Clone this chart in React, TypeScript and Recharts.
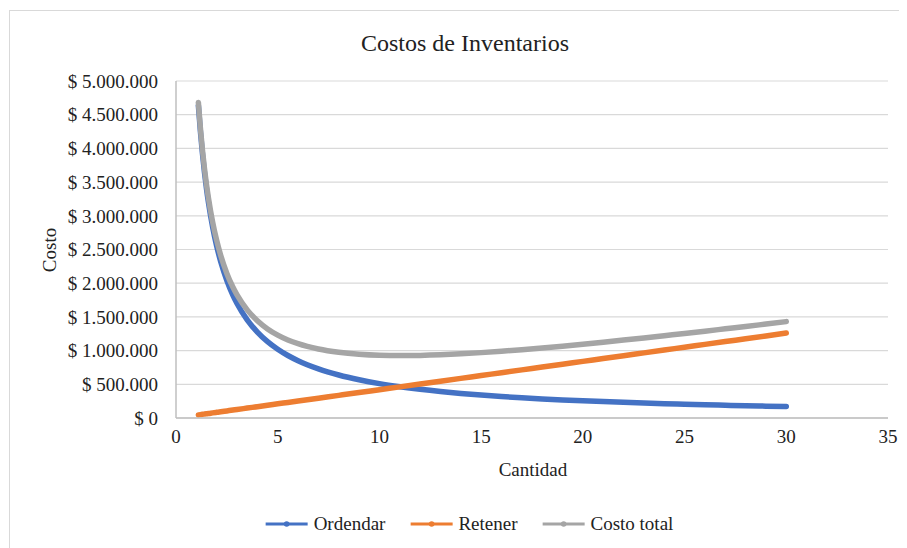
import React from "react";
import { LineChart, Line, XAxis, YAxis, CartesianGrid } from "recharts";

// Cantidad (x values)
const cantidad = [
  1.1, 1.2, 1.3, 1.4, 1.5, 1.6, 1.8, 2, 2.2, 2.5, 2.8, 3, 3.5, 4, 4.5, 5, 5.5, 6,
  7, 8, 9, 10, 11, 12, 13, 14, 15, 16, 17, 18, 19, 20, 21, 22, 23, 24, 25, 26,
  27, 28, 29, 30,
];

const ordendar = [
  4636000, 4250000, 3923000, 3643000, 3400000, 3188000, 2833000, 2550000,
  2318000, 2040000, 1821000, 1700000, 1457000, 1275000, 1133000, 1020000,
  927000, 850000, 729000, 638000, 567000, 510000, 464000, 425000, 392000,
  364000, 340000, 319000, 300000, 283000, 268000, 255000, 243000, 232000,
  222000, 213000, 204000, 196000, 189000, 182000, 176000, 170000,
];

const retener = [
  46000, 50000, 55000, 59000, 63000, 67000, 76000, 84000, 92000, 105000,
  118000, 126000, 147000, 168000, 189000, 210000, 231000, 252000, 294000,
  336000, 378000, 420000, 462000, 504000, 546000, 588000, 630000, 672000,
  714000, 756000, 798000, 840000, 882000, 924000, 966000, 1008000, 1050000,
  1092000, 1134000, 1176000, 1218000, 1260000,
];

const costoTotal = [
  4682000, 4300000, 3978000, 3702000, 3463000, 3255000, 2909000, 2634000,
  2410000, 2145000, 1939000, 1826000, 1604000, 1443000, 1322000, 1230000,
  1158000, 1102000, 1023000, 974000, 945000, 930000, 926000, 929000, 938000,
  952000, 970000, 991000, 1014000, 1039000, 1066000, 1095000, 1125000,
  1156000, 1188000, 1221000, 1254000, 1288000, 1323000, 1358000, 1394000,
  1430000,
];

const xTicks = [0, 5, 10, 15, 20, 25, 30, 35];
const yTicks = [
  0, 500000, 1000000, 1500000, 2000000, 2500000, 3000000, 3500000, 4000000,
  4500000, 5000000,
];

const seriesNames = ["Ordendar", "Retener", "Costo total"];
const seriesColors = ["#4472C4", "#ED7D31", "#A5A5A5"];
const seriesKeys = ["ordendar", "retener", "total"];

const data = cantidad.map((x, i) => ({
  x,
  ordendar: ordendar[i],
  retener: retener[i],
  total: costoTotal[i],
}));

const FONT = '"Liberation Serif", "Times New Roman", serif';

function fmtMoney(v: number): string {
  const s = Math.round(v).toString();
  const parts: string[] = [];
  for (let i = s.length; i > 0; i -= 3) {
    parts.unshift(s.substring(Math.max(0, i - 3), i));
  }
  return "$ " + parts.join(".");
}

export default function App() {
  return (
    <div
      style={{
        position: "relative",
        width: 907,
        height: 548,
        margin: "-8px 0 0 -8px",
        overflow: "hidden",
        background: "#fff",
        fontFamily: FONT,
      }}
    >
      <div
        style={{
          position: "absolute",
          left: 9,
          top: 10,
          width: 1000,
          height: 1000,
          border: "1px solid #d9d9d9",
          boxSizing: "border-box",
        }}
      />
      <div
        style={{
          position: "absolute",
          left: 0,
          width: 930,
          top: 28,
          textAlign: "center",
          fontSize: 24,
          color: "#222",
          lineHeight: "30px",
        }}
      >
        Costos de Inventarios
      </div>
      <div style={{ position: "absolute", left: 0, top: 0 }}>
        <LineChart
          width={907}
          height={548}
          data={data}
          margin={{ top: 81, right: 19, bottom: 100, left: 0 }}
        >
          <CartesianGrid
            horizontal={true}
            vertical={false}
            stroke="#d9d9d9"
            strokeWidth={1.2}
          />
          <XAxis
            dataKey="x"
            type="number"
            domain={[0, 35]}
            ticks={xTicks}
            allowDataOverflow
            height={30}
            stroke="#bfbfbf"
            strokeWidth={1.5}
            tickLine={false}
            tickSize={6}
            tickMargin={6}
            tick={{ fill: "#222", fontSize: 19, fontFamily: FONT }}
          />
          <YAxis
            type="number"
            domain={[0, 5000000]}
            ticks={yTicks}
            width={176}
            stroke="#bfbfbf"
            strokeWidth={1.5}
            tickLine={false}
            tickSize={6}
            tickMargin={12}
            tickFormatter={fmtMoney}
            tick={{ fill: "#222", fontSize: 19, fontFamily: FONT }}
          />
          {seriesKeys.map((k, i) => (
            <Line
              key={k}
              type="monotone"
              dataKey={k}
              name={seriesNames[i]}
              stroke={seriesColors[i]}
              strokeWidth={5.5}
              strokeLinecap="round"
              strokeLinejoin="round"
              dot={false}
              isAnimationActive={false}
            />
          ))}
        </LineChart>
      </div>
      <div
        style={{
          position: "absolute",
          left: 50,
          top: 250,
          transform: "translate(-50%, -50%) rotate(-90deg)",
          fontSize: 19,
          color: "#222",
          whiteSpace: "nowrap",
        }}
      >
        Costo
      </div>
      <div
        style={{
          position: "absolute",
          left: 533,
          top: 470,
          transform: "translate(-50%, -50%)",
          fontSize: 19,
          color: "#222",
          whiteSpace: "nowrap",
        }}
      >
        Cantidad
      </div>
      <div
        style={{
          position: "absolute",
          left: 469,
          top: 524,
          transform: "translate(-50%, -50%)",
          display: "flex",
          alignItems: "center",
          gap: 24,
          fontSize: 19,
          color: "#222",
          whiteSpace: "nowrap",
        }}
      >
        {seriesNames.map((n, i) => (
          <div key={n} style={{ display: "flex", alignItems: "center" }}>
            <svg width={44} height={10} style={{ marginRight: 5 }}>
              <line
                x1={1}
                y1={5}
                x2={43}
                y2={5}
                stroke={seriesColors[i]}
                strokeWidth={3}
              />
              <circle cx={22} cy={5} r={2.8} fill={seriesColors[i]} />
            </svg>
            <span>{n}</span>
          </div>
        ))}
      </div>
    </div>
  );
}
